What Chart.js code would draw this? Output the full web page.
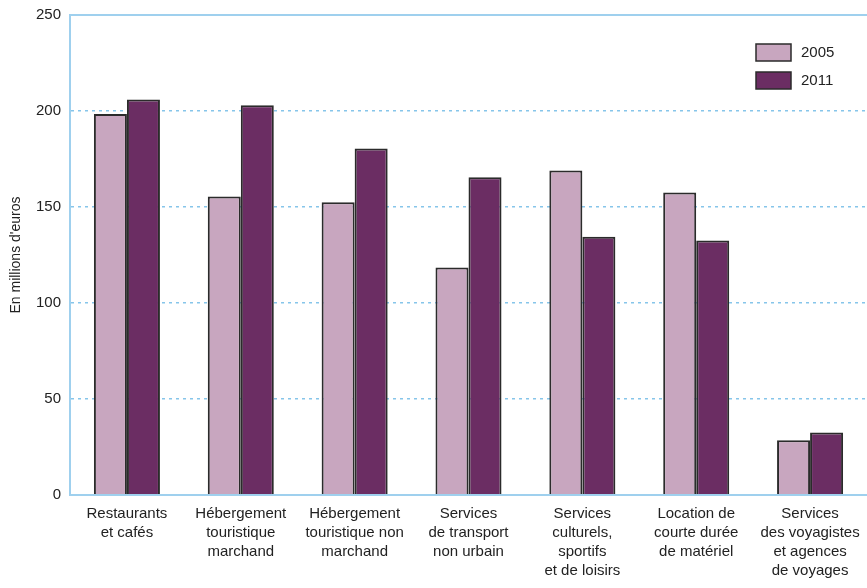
<!DOCTYPE html>
<html><head><meta charset="utf-8">
<script src="https://cdn.jsdelivr.net/npm/chart.js@4/dist/chart.umd.min.js"></script>
<style>html,body{margin:0;padding:0;background:#fff}#wrap{width:867px;height:588px;position:relative}</style>
</head><body><div id="wrap"><canvas id="c"></canvas></div>
<script>
const categories = [
  ["Restaurants","et cafés"],
  ["Hébergement","touristique","marchand"],
  ["Hébergement","touristique non","marchand"],
  ["Services","de transport","non urbain"],
  ["Services","culturels,","sportifs","et de loisirs"],
  ["Location de","courte durée","de matériel"],
  ["Services","des voyagistes","et agences","de voyages"]
];
const values2005 = [198.5, 155.5, 152.5, 118.5, 169, 157.5, 28.5];
const values2011 = [206, 203, 180.5, 165.5, 134.5, 132.5, 32.5];
const seriesNames = ["2005", "2011"];
const yTicks = [0, 50, 100, 150, 200, 250];

const c2005 = '#c8a6bf', c2011 = '#6b2d63', axisBlue = '#9fd0ee', gridBlue = '#86c5ea';
const FONT = '"Liberation Sans", Arial, sans-serif';

const legendPlugin = {
  id: 'customLegend',
  afterDraw(chart) {
    const ctx = chart.ctx;
    const x = 756, y0 = 44;
    chart.data.datasets.forEach((ds, i) => {
      const y = y0 + i * 28;
      ctx.fillStyle = ds.backgroundColor;
      ctx.fillRect(x, y, 35, 17);
      ctx.strokeStyle = '#2b2b2b';
      ctx.lineWidth = 1.5;
      ctx.strokeRect(x, y, 35, 17);
      ctx.fillStyle = '#222';
      ctx.font = '15px ' + FONT;
      ctx.textBaseline = 'middle';
      ctx.textAlign = 'left';
      ctx.fillText(ds.label, x + 45, y + 9);
    });
  }
};

const topBorder = {
  id: 'topBorder',
  afterDatasetsDraw(chart) {
    const ctx = chart.ctx, ca = chart.chartArea;
    ctx.save();
    ctx.strokeStyle = axisBlue;
    ctx.lineWidth = 2;
    ctx.beginPath();
    ctx.moveTo(ca.left, ca.top);
    ctx.lineTo(chart.width, ca.top);
    ctx.moveTo(ca.left, ca.bottom);
    ctx.lineTo(chart.width, ca.bottom);
    ctx.stroke();
    ctx.restore();
  }
};

new Chart(document.getElementById('c'), {
  type: 'bar',
  data: {
    labels: categories,
    datasets: [
      {label: seriesNames[0], data: values2005, backgroundColor: c2005, borderColor: '#2b2b2b', borderWidth: 2},
      {label: seriesNames[1], data: values2011, backgroundColor: c2011, borderColor: '#2b2b2b', borderWidth: 2}
    ]
  },
  options: {
    responsive: true, maintainAspectRatio: false, animation: false,
    layout: {padding: {top: 15, right: 0, left: 0, bottom: 0}},
    categoryPercentage: 0.58, barPercentage: 1.0,
    plugins: {legend: {display: false}, tooltip: {enabled: false}},
    scales: {
      x: {
        afterFit: s => { s.height = 93; s.paddingRight = 0; s.paddingLeft = 0; },
        grid: {display: false, drawTicks: false},
        border: {color: axisBlue, width: 2},
        ticks: {color: '#222', font: {family: FONT, size: 15, lineHeight: 1.27}, padding: 9, maxRotation: 0, autoSkip: false}
      },
      y: {
        min: 0, max: 250,
        afterBuildTicks: s => { s.ticks = yTicks.map(v => ({value: v})); },
        afterFit: s => { s.width = 70; s.paddingTop = 0; s.paddingBottom = 0; },
        grid: {
          color: ctx => (ctx.tick && (ctx.tick.value === 0 || ctx.tick.value === 250)) ? 'rgba(0,0,0,0)' : gridBlue,
          lineWidth: 1.4,
          drawTicks: false
        },
        border: {color: axisBlue, width: 2, dash: [3, 4]},
        ticks: {color: '#222', font: {family: FONT, size: 15}, padding: 9},
        title: {display: true, text: "En millions d'euros", color: '#222', font: {family: FONT, size: 14}, padding: {top: 8, bottom: 4}}
      }
    }
  },
  plugins: [legendPlugin, topBorder]
});
</script></body></html>
